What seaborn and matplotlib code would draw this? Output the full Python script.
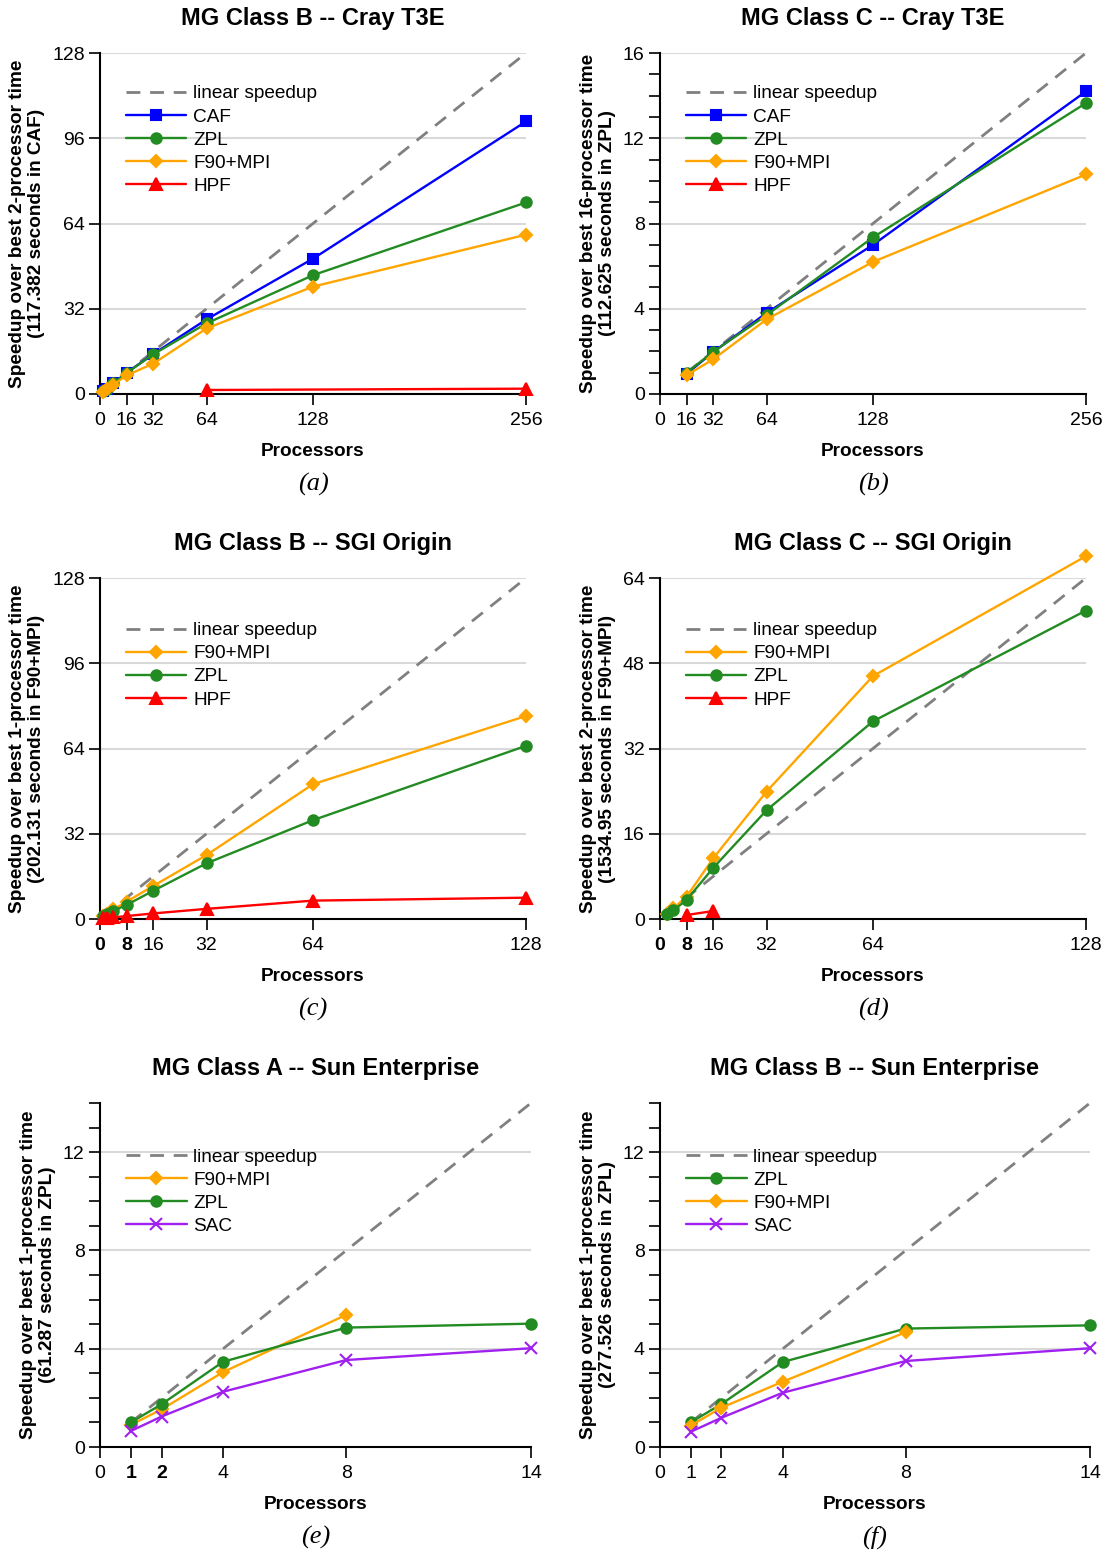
import matplotlib
matplotlib.use("Agg")
import matplotlib.pyplot as plt
from matplotlib.lines import Line2D
import seaborn as sns

# (a) MG Class B -- Cray T3E
a_procs = [2, 4, 8, 16, 32, 64, 128, 256]
a_caf = [1.0, 2.0, 4.0, 8.0, 15.0, 28.0, 50.8, 102.3]
a_zpl = [1.0, 2.0, 4.0, 7.9, 14.9, 26.5, 44.6, 71.9]
a_f90 = [0.9, 1.8, 3.5, 7.0, 11.4, 24.6, 40.3, 59.8]
a_hpf_procs = [64, 256]
a_hpf = [1.5, 2.0]
a_lin_x = [2, 256]
a_lin_y = [1, 128]

# (b) MG Class C -- Cray T3E
b_procs = [16, 32, 64, 128, 256]
b_caf = [0.95, 1.97, 3.8, 7.0, 14.2]
b_zpl = [1.0, 1.98, 3.7, 7.35, 13.65]
b_f90 = [0.88, 1.63, 3.5, 6.2, 10.3]
b_lin_x = [16, 256]
b_lin_y = [1, 16]

# (c) MG Class B -- SGI Origin
c_procs = [1, 2, 4, 8, 16, 32, 64, 128]
c_f90 = [1.0, 1.9, 3.6, 6.5, 12.4, 24.0, 50.6, 76.2]
c_zpl = [0.95, 1.8, 3.1, 5.3, 10.6, 20.9, 37.1, 65.0]
c_hpf = [0.2, 0.4, 0.6, 1.1, 2.1, 3.8, 6.9, 8.0]
c_lin_x = [1, 128]
c_lin_y = [1, 128]

# (d) MG Class C -- SGI Origin
d_procs = [2, 4, 8, 16, 32, 64, 128]
d_f90 = [1.0, 2.0, 4.2, 11.4, 23.9, 45.6, 68.1]
d_zpl = [0.9, 1.6, 3.6, 9.6, 20.4, 37.1, 57.9]
d_hpf_procs = [8, 16]
d_hpf = [0.75, 1.5]
d_lin_x = [2, 128]
d_lin_y = [1, 64]

# (e) MG Class A -- Sun Enterprise
e_procs = [1, 2, 4, 8, 14]
e_f90_procs = [1, 2, 4, 8]
e_f90 = [0.9, 1.53, 3.05, 5.38]
e_zpl = [1.0, 1.74, 3.47, 4.86, 5.02]
e_sac = [0.65, 1.24, 2.25, 3.54, 4.02]
e_lin_x = [1, 14]
e_lin_y = [1, 14]

# (f) MG Class B -- Sun Enterprise
f_procs = [1, 2, 4, 8, 14]
f_f90_procs = [1, 2, 4, 8]
f_zpl = [1.0, 1.75, 3.46, 4.82, 4.95]
f_f90 = [0.87, 1.6, 2.66, 4.67]
f_sac = [0.62, 1.19, 2.21, 3.5, 4.02]
f_lin_x = [1, 14]
f_lin_y = [1, 14]

STYLE = {
    "CAF": ("#0000ff", "s", 7.5),
    "ZPL": ("#228b22", "o", 7.5),
    "F90+MPI": ("#ffa500", "D", 6.0),
    "HPF": ("#ff0000", "^", 8.0),
    "SAC": ("#a020f0", "x", 8.0),
}
GRAY = "#808080"

sns.set_style("white")
plt.rcParams["font.family"] = ["Liberation Sans", "DejaVu Sans"]
plt.rcParams["text.color"] = "black"
plt.rcParams["axes.labelcolor"] = "black"
plt.rcParams["xtick.color"] = "black"
plt.rcParams["ytick.color"] = "black"

fig = plt.figure(figsize=(11.07, 15.51), dpi=100)
W, H = 1107.0, 1551.0


def make_ax(left, right, top, bottom):
    return fig.add_axes([left / W, 1 - bottom / H, (right - left) / W, (bottom - top) / H])


def draw(ax, title, ylabel, series, lin, xmax, xticks, ymax, yticks, yminor,
         legend_order, caption, bold_x=(), legend_y=0.928):
    ax.set_xlim(0, xmax)
    ax.set_ylim(0, ymax)
    for y in yticks[1:]:
        ax.axhline(y, color="#d9d9d9", lw=1.5, zorder=0)
    sns.lineplot(x=lin[0], y=lin[1], ax=ax, color=GRAY, lw=2, linestyle=(0, (5, 3.5)),
                 clip_on=False, zorder=2)
    for name, xs, ys in series:
        c, m, ms = STYLE[name]
        sns.lineplot(x=xs, y=ys, ax=ax, color=c, marker=m, markersize=ms, lw=1.7,
                     mec=c, mew=1.5, clip_on=False, zorder=3)
    handles = [Line2D([], [], color=GRAY, lw=2, linestyle=(0, (5, 3.5)))]
    for name in legend_order:
        c, m, ms = STYLE[name]
        handles.append(Line2D([], [], color=c, lw=1.7, marker=m, markersize=ms, mec=c, mew=1.5))
    ax.legend(handles, ["linear speedup"] + legend_order, loc="upper left",
              bbox_to_anchor=(0.042, legend_y), frameon=False, fontsize=13.7,
              handlelength=3.2, handletextpad=0.35, labelspacing=0.3, borderaxespad=0)
    ax.set_xticks(xticks)
    ax.set_xticklabels([str(t) for t in xticks])
    for lab, t in zip(ax.get_xticklabels(), xticks):
        if t in bold_x:
            lab.set_fontweight("bold")
    ax.set_yticks(yticks)
    ax.set_yticklabels([str(t) for t in yticks])
    if yminor:
        ax.set_yticks(range(0, ymax + 1, yminor), minor=True)
    ax.tick_params(axis="both", which="both", direction="out", length=8, width=1.2,
                   labelsize=14, pad=3, left=True, bottom=True)
    ax.tick_params(axis="x", pad=5)
    for s in ["top", "right"]:
        ax.spines[s].set_visible(False)
    for s in ["left", "bottom"]:
        ax.spines[s].set_linewidth(1.5)
        ax.spines[s].set_color("black")
    ax.set_title(title, fontsize=17, fontweight="bold", pad=20.5)
    ax.set_xlabel("Processors", fontsize=13.7, fontweight="bold", labelpad=10)
    ax.set_ylabel(ylabel, fontsize=13.7, fontweight="bold", labelpad=5, linespacing=1.15)
    pos = ax.get_position()
    fig.text(pos.x0 + pos.width / 2, pos.y0 - 90 / H, caption, ha="center", va="center",
             fontsize=19, style="italic", family="Liberation Serif")


ax = make_ax(100, 526, 53, 394)
draw(ax, "MG Class B -- Cray T3E",
     "Speedup over best 2-processor time\n(117.382 seconds in CAF)",
     [("CAF", a_procs, a_caf), ("ZPL", a_procs, a_zpl), ("F90+MPI", a_procs, a_f90),
      ("HPF", a_hpf_procs, a_hpf)],
     (a_lin_x, a_lin_y), 256, [0, 16, 32, 64, 128, 256], 128, [0, 32, 64, 96, 128], None,
     ["CAF", "ZPL", "F90+MPI", "HPF"], "(a)")

ax = make_ax(660, 1086, 53, 394)
draw(ax, "MG Class C -- Cray T3E",
     "Speedup over best 16-processor time\n(112.625 seconds in ZPL)",
     [("CAF", b_procs, b_caf), ("ZPL", b_procs, b_zpl), ("F90+MPI", b_procs, b_f90)],
     (b_lin_x, b_lin_y), 256, [0, 16, 32, 64, 128, 256], 16, [0, 4, 8, 12, 16], 1,
     ["CAF", "ZPL", "F90+MPI", "HPF"], "(b)")

ax = make_ax(100, 526, 578, 919)
draw(ax, "MG Class B -- SGI Origin",
     "Speedup over best 1-processor time\n(202.131 seconds in F90+MPI)",
     [("F90+MPI", c_procs, c_f90), ("ZPL", c_procs, c_zpl), ("HPF", c_procs, c_hpf)],
     (c_lin_x, c_lin_y), 128, [0, 8, 16, 32, 64, 128], 128, [0, 32, 64, 96, 128], None,
     ["F90+MPI", "ZPL", "HPF"], "(c)", bold_x=(0, 8), legend_y=0.893)

ax = make_ax(660, 1086, 578, 919)
draw(ax, "MG Class C -- SGI Origin",
     "Speedup over best 2-processor time\n(1534.95 seconds in F90+MPI)",
     [("F90+MPI", d_procs, d_f90), ("ZPL", d_procs, d_zpl), ("HPF", d_hpf_procs, d_hpf)],
     (d_lin_x, d_lin_y), 128, [0, 8, 16, 32, 64, 128], 64, [0, 16, 32, 48, 64], None,
     ["F90+MPI", "ZPL", "HPF"], "(d)", bold_x=(0, 8), legend_y=0.893)

ax = make_ax(100, 531, 1103, 1447)
draw(ax, "MG Class A -- Sun Enterprise",
     "Speedup over best 1-processor time\n(61.287 seconds in ZPL)",
     [("F90+MPI", e_f90_procs, e_f90), ("ZPL", e_procs, e_zpl), ("SAC", e_procs, e_sac)],
     (e_lin_x, e_lin_y), 14, [0, 1, 2, 4, 8, 14], 14, [0, 4, 8, 12], 1,
     ["F90+MPI", "ZPL", "SAC"], "(e)", bold_x=(1, 2), legend_y=0.89)

ax = make_ax(660, 1090, 1103, 1447)
draw(ax, "MG Class B -- Sun Enterprise",
     "Speedup over best 1-processor time\n(277.526 seconds in ZPL)",
     [("ZPL", f_procs, f_zpl), ("F90+MPI", f_f90_procs, f_f90), ("SAC", f_procs, f_sac)],
     (f_lin_x, f_lin_y), 14, [0, 1, 2, 4, 8, 14], 14, [0, 4, 8, 12], 1,
     ["ZPL", "F90+MPI", "SAC"], "(f)", legend_y=0.89)

fig.savefig("out.png", dpi=100)
